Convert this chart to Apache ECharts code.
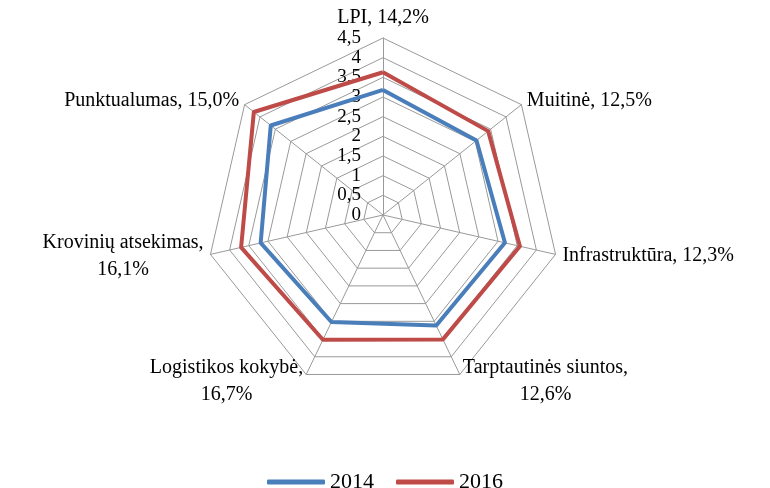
<!DOCTYPE html>
<html>
<head>
<meta charset="utf-8">
<script src="https://cdn.jsdelivr.net/npm/echarts@6/dist/echarts.min.js"></script>
<style>
  html, body { margin: 0; padding: 0; background: #fff; }
  #chart { width: 770px; height: 488px; }
</style>
</head>
<body>
<div id="chart"></div>
<script>
  // axis titles as printed (with the % change), \n where the label wraps
  // listed clockwise from the top, as in the picture
  var axisNames = ['LPI, 14,2%', 'Muitinė, 12,5%', 'Infrastruktūra, 12,3%',
                   'Tarptautinės siuntos,\n12,6%', 'Logistikos kokybė,\n16,7%',
                   'Krovinių atsekimas,\n16,1%', 'Punktualumas, 15,0%'];
  var years = ['2014', '2016'];
  var values2014 = [3.18, 3.04, 3.18, 3.12, 3.02, 3.19, 3.65];
  var values2016 = [3.63, 3.42, 3.57, 3.51, 3.52, 3.70, 4.20];
  var scaleMin = 0;
  var scaleMax = 4.5;
  var scaleStep = 0.5;

  // echarts radar goes counter-clockwise, so flip everything after the first axis
  function clockwise(arr) {
    return [arr[0]].concat(arr.slice(1).reverse());
  }

  var font = '"Times New Roman", "Liberation Serif", serif';
  var chart = echarts.init(document.getElementById('chart'));

  chart.setOption({
    animation: false,
    color: ['#4a7ebb', '#be4b48'],
    legend: {
      data: years,
      top: 466,
      left: 'center',
      icon: 'roundRect',
      itemWidth: 58,
      itemHeight: 5,
      itemGap: 22,
      textStyle: { fontFamily: font, fontSize: 22, color: '#000' }
    },
    radar: {
      center: [383, 215],
      radius: 177,
      startAngle: 90,
      shape: 'polygon',
      splitNumber: (scaleMax - scaleMin) / scaleStep,
      nameGap: 7,
      indicator: clockwise(axisNames).map(function (n) {
        return { name: n, min: scaleMin, max: scaleMax };
      }),
      axisName: {
        color: '#000',
        fontFamily: font,
        fontSize: 20,
        formatter: function (name) {
          return name.split('\n').map(function (l) { return '{c|' + l + '}'; }).join('\n');
        },
        rich: {
          c: { align: 'center', fontFamily: font, fontSize: 20, color: '#000', lineHeight: 27 }
        }
      },
      axisLine: { lineStyle: { color: '#999', width: 1 } },
      splitLine: { lineStyle: { color: '#999', width: 1 } },
      splitArea: { show: false },
      axisTick: { show: false },
      axisLabel: { show: false }
    },
    // hidden polar only to print the scale on the top axis
    polar: { center: [383, 215], radius: 177 },
    angleAxis: { show: false, startAngle: 90, min: 0, max: 360 },
    radiusAxis: {
      min: scaleMin,
      max: scaleMax,
      interval: scaleStep,
      axisLine: { show: false },
      axisTick: { show: false },
      splitLine: { show: false },
      axisLabel: {
        margin: 22,
        showMinLabel: true,
        showMaxLabel: true,
        hideOverlap: false,
        fontFamily: font,
        fontSize: 19,
        lineHeight: 16,
        padding: 0,
        color: '#000',
        formatter: function (v) { return String(v).replace('.', ','); }
      }
    },
    series: [{
      type: 'radar',
      symbol: 'none',
      lineStyle: { width: 4 },
      data: [
        { name: years[0], value: clockwise(values2014), lineStyle: { color: '#4a7ebb', width: 4 } },
        { name: years[1], value: clockwise(values2016), lineStyle: { color: '#be4b48', width: 4 } }
      ]
    }]
  });
</script>
</body>
</html>
